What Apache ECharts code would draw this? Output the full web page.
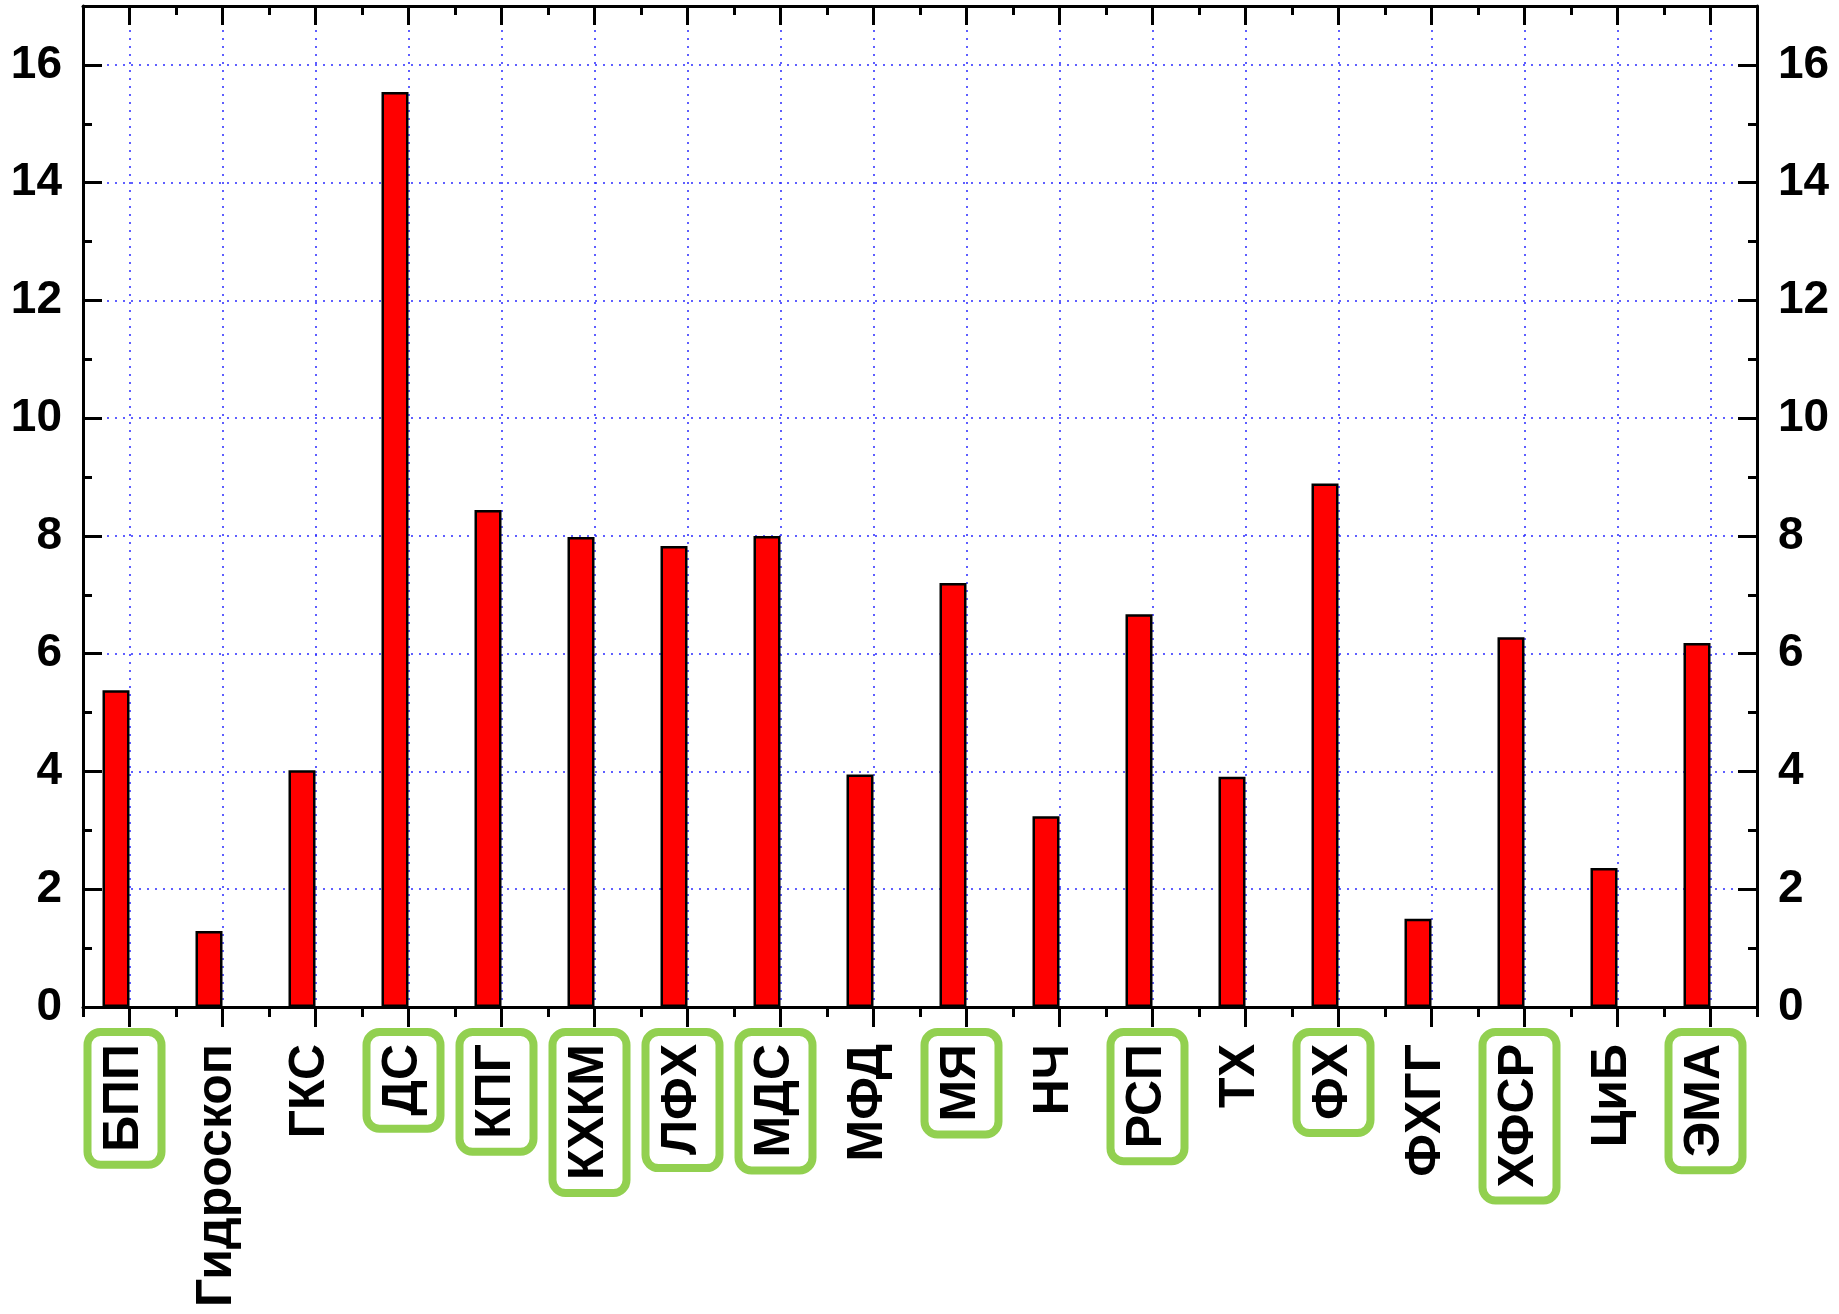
<!DOCTYPE html>
<html>
<head>
<meta charset="utf-8">
<title>bars</title>
<script src="https://cdn.jsdelivr.net/npm/echarts@6/dist/echarts.min.js"></script>
<style>
    html, body { margin: 0; padding: 0; background: #fff; }
    #chart1 { width: 1839px; height: 1314px; }
</style>
</head>
<body>
<div id="chart1"></div>
<script>
// data
var categories = ['БПП', 'Гидроскоп', 'ГКС', 'ДС', 'КПГ', 'КХКМ', 'ЛФХ', 'МДС', 'МФД',
    'МЯ', 'НЧ', 'РСП', 'ТХ', 'ФХ', 'ФХГГ', 'ХФСР', 'ЦиБ', 'ЭМА']
var values = [5.38, 1.29, 4.02, 15.54, 8.44, 7.98, 7.83, 8.00, 3.95,
    7.20, 3.24, 6.67, 3.91, 8.89, 1.50, 6.28, 2.36, 6.18]
// labels framed in green
var framed = ['БПП', 'ДС', 'КПГ', 'КХКМ', 'ЛФХ', 'МДС', 'МЯ', 'РСП', 'ФХ', 'ХФСР', 'ЭМА']

var axisColor = '#000'
var gridColor = '#2a2aff'
var fontFamily = '"Liberation Sans", Arial, sans-serif'

var chart1 = echarts.init(document.getElementById('chart1'))

var lineStyle = { color: axisColor, width: 3 }
var dotted = { color: gridColor, width: 1.5, type: [2, 6] }
var labelBox = {
    fontSize: 50,
    fontWeight: 'bold',
    fontFamily: fontFamily,
    color: '#000',
    lineHeight: 52,
    padding: [12, 12, 12, 13],
    borderRadius: 13
}

// category axis factory: main ones carry ticks on the centers, minor ones on the borders
function catAxis (position, main, len, inside) {
    return {
        type: 'category',
        position: position,
        data: categories,
        boundaryGap: true,
        axisLine: { show: main, onZero: false, lineStyle: lineStyle },
        axisTick: { show: true, alignWithLabel: main, inside: inside, length: len, lineStyle: lineStyle },
        axisLabel: { show: false },
        splitLine: { show: false }
    }
}

function valAxis (position, main, len) {
    return {
        type: 'value',
        position: position,
        min: 0,
        max: 17,
        interval: main ? 2 : 1,
        axisLine: { show: main, onZero: false, lineStyle: lineStyle },
        axisTick: { show: true, inside: true, length: len, lineStyle: lineStyle },
        axisLabel: {
            show: main,
            showMaxLabel: false,
            margin: 21,
            fontSize: 46,
            fontWeight: 'bold',
            fontFamily: fontFamily,
            color: '#000'
        },
        splitLine: { show: false }
    }
}

var bottomAxis = catAxis('bottom', true, 20, false)
bottomAxis.axisLabel = {
    show: true,
    interval: 0,
    rotate: 90,
    margin: 25,
    // extra room on the right side so the frames sit a bit left of the tick
    padding: [0, 0, 10, 0],
    formatter: function (v) {
        return framed.indexOf(v) >= 0 ? '{g|' + v + '}' : '{n|' + v + '}'
    },
    rich: {
        g: Object.assign({ borderColor: '#92d050', borderWidth: 8 }, labelBox),
        n: Object.assign({}, labelBox)
    }
}
bottomAxis.splitLine = { show: true, alignWithLabel: true, lineStyle: dotted }

var leftAxis = valAxis('left', true, 19)
leftAxis.splitLine = { show: true, lineStyle: dotted }

var option = {
    backgroundColor: '#fff',
    animation: false,
    grid: {
        left: 83,
        right: 82,
        top: 6,
        bottom: 307,
        containLabel: false,
        outerBoundsMode: 'none'
    },
    xAxis: [
        bottomAxis,
        catAxis('bottom', false, 10, false),
        catAxis('top', true, 19, true),
        catAxis('top', false, 9, true)
    ],
    yAxis: [
        leftAxis,
        valAxis('left', false, 9),
        valAxis('right', true, 19),
        valAxis('right', false, 9)
    ],
    series: [
        {
            name: 'values',
            type: 'bar',
            xAxisIndex: 0,
            yAxisIndex: 0,
            barWidth: 27,
            barGap: '0%',
            itemStyle: { color: '#ff0000', borderColor: '#000', borderWidth: 2.5 },
            data: values
        },
        {
            // empty slot so the red bar sits left of the tick
            name: 'spacer',
            type: 'bar',
            xAxisIndex: 0,
            yAxisIndex: 0,
            barWidth: 27,
            data: []
        }
    ]
}
chart1.setOption(option)
</script>
</body>
</html>
